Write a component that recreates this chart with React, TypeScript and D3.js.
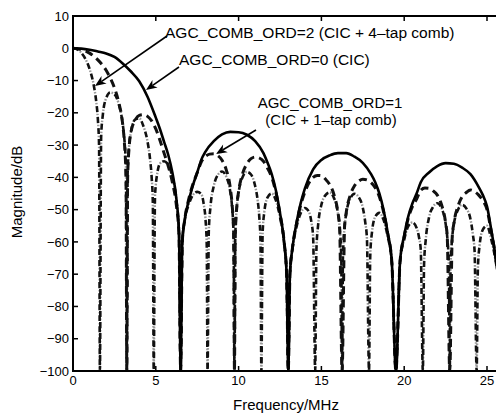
import React from "react";
import * as d3 from "d3";

// Frequency (MHz), magnitude (dB)
const cicData: [number, number][] = [
  [0,0],[0.5,-0.1],[1,-0.45],[1.5,-1.0],[2,-1.6],[2.5,-2.7],[3,-4.7],[3.5,-7.2],[4,-10.2],[4.5,-15],[5,-21.5],[5.25,-25],[5.5,-29],[5.75,-33],[6,-38.5],[6.25,-47],[6.4,-57],[6.5,-100],
  [6.6,-60],[6.75,-53],[7,-47],[7.25,-42.3],[7.5,-38.5],[7.75,-34.5],[8,-32],[8.5,-28.8],[9,-26.7],[9.5,-25.9],[10,-26],[10.5,-26.8],[11,-28.8],[11.5,-32.5],[11.75,-35.5],[12,-39],[12.25,-44],[12.5,-51],[12.75,-60],[12.9,-70],[13,-100],
  [13.1,-70],[13.25,-62],[13.5,-54],[13.75,-48],[14,-43.5],[14.5,-37.5],[15,-34.6],[15.5,-33.2],[16,-32.5],[16.5,-32.5],[17,-33.6],[17.5,-35.5],[18,-39],[18.25,-41.5],[18.5,-45],[18.75,-50],[19,-57],[19.25,-66],[19.5,-100],
  [19.75,-66],[20,-58],[20.25,-52],[20.5,-48],[20.75,-45],[21,-41.5],[21.5,-38.5],[22,-36.5],[22.5,-35.6],[23,-35.8],[23.5,-37],[24,-39],[24.5,-43],[24.75,-45.5],[25,-49],[25.25,-56],[25.5,-64],[25.75,-75],[26,-100]
];

const comb1Data: [number, number][] = [
  [0,0],[0.5,-0.4],[1,-1.5],[1.5,-3.6],[2,-6.8],[2.25,-9.2],[2.5,-12.2],[2.75,-16.5],[3,-23.5],[3.1,-29],[3.2,-40],[3.25,-100],
  [3.3,-40],[3.4,-30],[3.5,-26],[3.75,-22.3],[4,-20.8],[4.25,-20.6],[4.5,-21.1],[4.75,-22.5],[5,-25],[5.25,-28.5],[5.5,-32.5],[5.75,-36.5],[6,-41.5],[6.25,-49],[6.4,-58],[6.5,-100],
  [6.6,-60],[6.75,-53],[7,-46.5],[7.25,-42],[7.5,-38.6],[7.75,-35.2],[8,-33.5],[8.25,-32.8],[8.5,-32.7],[8.75,-33.3],[9,-34.7],[9.25,-37.6],[9.5,-43.3],[9.6,-48],[9.7,-57],[9.75,-100],
  [9.8,-58],[9.9,-48.6],[10,-44.4],[10.25,-38.7],[10.5,-35.8],[10.75,-34.2],[11,-33.7],[11.25,-34],[11.5,-35],[11.75,-37.2],[12,-40],[12.25,-44.6],[12.5,-51.3],[12.75,-60],[12.9,-70],[13,-100],
  [13.1,-70],[13.25,-62],[13.5,-54.3],[13.75,-48.6],[14,-44.6],[14.25,-41.7],[14.5,-40],[14.75,-39.4],[15,-39.5],[15.25,-40.6],[15.5,-42.2],[15.75,-45.2],[16,-50.9],[16.1,-55.3],[16.25,-100],
  [16.4,-55.3],[16.5,-50.9],[16.75,-45.4],[17,-42.6],[17.25,-41.2],[17.5,-40.6],[17.75,-40.8],[18,-41.6],[18.25,-43.2],[18.5,-46],[18.75,-50.6],[19,-57.3],[19.25,-66],[19.5,-100],
  [19.75,-66],[20,-58.3],[20.25,-52.6],[20.5,-49],[20.75,-46.7],[21,-44],[21.25,-43.3],[21.5,-43.4],[21.75,-44.2],[22,-45.5],[22.25,-48.4],[22.5,-54],[22.6,-58.4],[22.75,-100],
  [22.9,-58.5],[23,-54.2],[23.25,-48.9],[23.5,-46],[23.75,-44.7],[24,-43.9],[24.25,-44.4],[24.5,-45.5],[24.75,-47.2],[25,-50],[25.25,-56.6],[25.5,-64],[25.75,-75],[26,-100]
];

const comb4Data: [number, number][] = [
  [0,0],[0.25,-0.3],[0.5,-1.4],[0.75,-3.3],[1,-6.4],[1.25,-11.4],[1.4,-16.4],[1.5,-21.9],[1.575,-30.4],[1.625,-100],
  [1.7,-27.3],[1.8,-20.7],[2,-15.5],[2.25,-13.7],[2.5,-14.2],[2.75,-17.1],[3,-23.4],[3.1,-28],[3.2,-37.9],[3.25,-100],
  [3.3,-38.5],[3.4,-29.6],[3.5,-25.9],[3.75,-22.1],[4,-21.7],[4.25,-24.1],[4.5,-28.9],[4.65,-34.2],[4.75,-40],[4.82,-47.7],[4.875,-100],
  [4.95,-46.3],[5,-42.4],[5.1,-38.4],[5.25,-35.7],[5.5,-35],[5.75,-36.1],[6,-39.8],[6.25,-47.3],[6.4,-57],[6.5,-100],
  [6.6,-60],[6.75,-53.3],[7,-48.3],[7.25,-45.4],[7.5,-44.5],[7.75,-45.2],[7.9,-48.5],[8,-52.9],[8.075,-60.8],[8.125,-100],
  [8.2,-56.7],[8.3,-49.2],[8.5,-42.7],[8.75,-39.2],[9,-38.2],[9.25,-39.7],[9.5,-44.6],[9.6,-48.8],[9.7,-58.1],[9.75,-100],
  [9.8,-58.1],[9.9,-48.7],[10,-44.7],[10.25,-39.8],[10.5,-38.3],[10.75,-39.1],[11,-42.7],[11.15,-47.1],[11.25,-52.3],[11.32,-59.6],[11.375,-100],
  [11.45,-57.4],[11.55,-50.8],[11.75,-46.2],[12,-45],[12.25,-47.1],[12.5,-52.3],[12.75,-60.5],[12.9,-70],[13,-100],
  [13.1,-70],[13.25,-62.3],[13.5,-55.3],[13.75,-51.1],[14,-49.5],[14.25,-50.7],[14.4,-54],[14.5,-58.4],[14.625,-100],
  [14.7,-62.3],[14.8,-54.9],[15,-48.5],[15.25,-45.5],[15.5,-44.7],[15.75,-46.3],[16,-51.2],[16.1,-55.4],[16.2,-64.8],[16.25,-100],
  [16.3,-64.8],[16.4,-55.4],[16.5,-51.2],[16.75,-46.5],[17,-45.1],[17.25,-46.1],[17.5,-49.4],[17.65,-54],[17.75,-59],[17.875,-100],
  [17.95,-64.1],[18.05,-57.2],[18.25,-52.2],[18.5,-51],[18.75,-53.1],[19,-58.3],[19.25,-66.3],[19.5,-100],
  [19.75,-66],[20,-59.3],[20.25,-55.1],[20.5,-54],[20.75,-55.7],[20.9,-58.7],[21,-62.4],[21.125,-100],
  [21.2,-66.9],[21.3,-59.4],[21.5,-52.4],[21.75,-49.1],[22,-48],[22.25,-49.5],[22.5,-54.3],[22.6,-58.5],[22.7,-68],[22.75,-100],
  [22.8,-68],[22.9,-58.6],[23,-54.5],[23.25,-50],[23.5,-48.5],[23.75,-49.6],[24,-52.9],[24.15,-57.8],[24.25,-62.8],[24.375,-100],
  [24.45,-68.1],[24.55,-61.2],[24.75,-56.2],[25,-55],[25.25,-59.1],[25.5,-65.3],[25.75,-75],[26,-100]
];

const xTicks = [0, 5, 10, 15, 20, 25];
const yTicks = [10, 0, -10, -20, -30, -40, -50, -60, -70, -80, -90, -100];

const label2 = "AGC_COMB_ORD=2 (CIC + 4\u2013tap comb)";
const label0 = "AGC_COMB_ORD=0 (CIC)";
const label1a = "AGC_COMB_ORD=1";
const label1b = "(CIC + 1\u2013tap comb)";
const xTitle = "Frequency/MHz";
const yTitle = "Magnitude/dB";

const FONT = "'Liberation Sans', Arial, Helvetica, sans-serif";

function Arrow({ x1, y1, x2, y2 }: { x1: number; y1: number; x2: number; y2: number }) {
  const ang = Math.atan2(y2 - y1, x2 - x1);
  const L = 11, Wd = 4.5;
  const bx = x2 - L * Math.cos(ang), by = y2 - L * Math.sin(ang);
  const nx = -Math.sin(ang), ny = Math.cos(ang);
  const mx = x2 - L * 0.7 * Math.cos(ang), my = y2 - L * 0.7 * Math.sin(ang);
  const pts = `${x2},${y2} ${bx + nx * Wd},${by + ny * Wd} ${mx},${my} ${bx - nx * Wd},${by - ny * Wd}`;
  return (
    <g>
      <line x1={x1} y1={y1} x2={mx} y2={my} stroke="#000" strokeWidth={1.6} />
      <polygon points={pts} fill="#000" />
    </g>
  );
}

export default function App() {
  const left = 73, top = 16, bottom = 371, right = 500;
  const x = d3.scaleLinear().domain([0, 25]).range([73, 487]);
  const y = d3.scaleLinear().domain([-100, 10]).range([bottom, top]);
  const line = d3
    .line<[number, number]>()
    .x((d) => x(d[0]))
    .y((d) => y(d[1]))
    .curve(d3.curveMonotoneX);

  return (
    <svg
      width={496}
      height={413}
      style={{ position: "absolute", left: 0, top: 0, background: "#fff" }}
      fontFamily={FONT}
    >
      <defs>
        <clipPath id="plotclip">
          <rect x={left} y={top} width={right - left} height={bottom - top} />
        </clipPath>
      </defs>
      <rect x={0} y={0} width={496} height={413} fill="#fff" />
      <g clipPath="url(#plotclip)" fill="none" strokeLinejoin="round">
        <path d={line(comb4Data) || ""} stroke="#9a9a9a" strokeWidth={2.4} strokeDasharray="1.6,9.4" strokeDashoffset={-7.7} />
        <path d={line(comb4Data) || ""} stroke="#111" strokeWidth={2.6} strokeDasharray="6,5" />
        <path d={line(comb1Data) || ""} stroke="#111" strokeWidth={3} strokeDasharray="8,5" />
        <path d={line(cicData) || ""} stroke="#000" strokeWidth={2.6} />
      </g>

      {/* frame */}
      <g stroke="#000" strokeWidth={2} fill="none">
        <line x1={left} y1={top} x2={right} y2={top} />
        <line x1={left} y1={bottom} x2={right} y2={bottom} />
        <line x1={left} y1={top - 1} x2={left} y2={bottom + 1} />
      </g>
      <g stroke="#000" strokeWidth={1.5}>
        {xTicks.map((t) => (
          <g key={"xt" + t}>
            <line x1={x(t)} y1={bottom} x2={x(t)} y2={bottom - 5} />
            <line x1={x(t)} y1={top} x2={x(t)} y2={top + 5} />
          </g>
        ))}
        {yTicks.map((t) => (
          <line key={"yt" + t} x1={left} y1={y(t)} x2={left + 5} y2={y(t)} />
        ))}
      </g>
      <g fontSize={13} fill="#000">
        {xTicks.map((t) => (
          <text key={"xl" + t} x={x(t)} y={385} textAnchor="middle">
            {String(t)}
          </text>
        ))}
        {yTicks.map((t) => (
          <text key={"yl" + t} x={69} y={y(t) + 4.6} textAnchor="end">
            {t < 0 ? "\u2212" + Math.abs(t) : String(t)}
          </text>
        ))}
      </g>
      <text x={286} y={410} fontSize={15} textAnchor="middle">{xTitle}</text>
      <text transform="translate(22,192) rotate(-90)" fontSize={15} textAnchor="middle">{yTitle}</text>

      {/* annotations */}
      <g fontSize={15.5} fill="#000">
        <text x={165} y={38}>{label2}</text>
        <text x={179} y={65}>{label0}</text>
      </g>
      <g fontSize={15} fill="#000">
        <text x={330} y={108} textAnchor="middle">{label1a}</text>
        <text x={331} y={125} textAnchor="middle">{label1b}</text>
      </g>
      <Arrow x1={167} y1={36} x2={95} y2={86} />
      <Arrow x1={179} y1={67} x2={146} y2={90} />
      <Arrow x1={256} y1={130} x2={216} y2={154} />
    </svg>
  );
}
